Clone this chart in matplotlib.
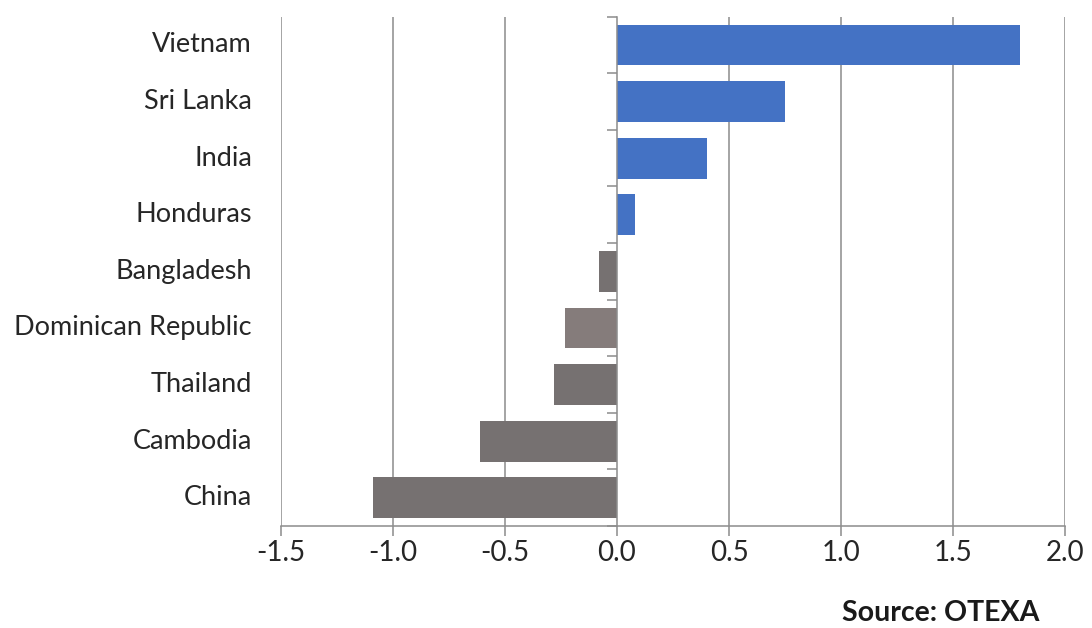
import matplotlib
matplotlib.use("Agg")
import matplotlib.pyplot as plt
import numpy as np

# change by country, top to bottom
countries = ["Vietnam", "Sri Lanka", "India", "Honduras", "Bangladesh",
             "Dominican Republic", "Thailand", "Cambodia", "China"]
values = [1.80, 0.75, 0.40, 0.08, -0.08, -0.23, -0.28, -0.61, -1.09]
xticks = [-1.5, -1.0, -0.5, 0.0, 0.5, 1.0, 1.5, 2.0]

BLUE = "#4472C4"
GRAY = "#767171"
shade = {"Dominican Republic": "#857C7B"}

plt.rcParams["font.family"] = ["Lato", "DejaVu Sans"]

fig = plt.figure(figsize=(10.92, 6.28), dpi=100)
ax = fig.add_axes([0.2573, 0.1624, 0.7180, 0.8110])

n = len(countries)
ypos = np.arange(n)
colors = [shade.get(c, BLUE if v >= 0 else GRAY) for c, v in zip(countries, values)]

# vertical gridlines behind the bars
for t in xticks:
    if t != 0:
        ax.axvline(t, color="#8c8c8c", lw=1.1, zorder=0)

ax.barh(ypos, values, height=0.72, color=colors, zorder=2)

ax.set_xlim(-1.5, 2.0)
ax.set_ylim(n - 0.5, -0.5)

# y axis sits at zero, ticks between categories
ax.spines["left"].set_position(("data", 0))
ax.spines["left"].set_color("#8c8c8c")
ax.spines["left"].set_linewidth(1.1)
ax.spines["left"].set_zorder(3)
ax.set_yticks(np.arange(n + 1) - 0.5)
ax.set_yticklabels([])
ax.tick_params(axis="y", length=7, width=1.1, color="#8c8c8c", direction="out")

for y, name in zip(ypos, countries):
    ax.text(-0.037, y, name, transform=ax.get_yaxis_transform(),
            ha="right", va="center", fontsize=19.5, color="#262626")

ax.spines["top"].set_visible(False)
ax.spines["right"].set_visible(False)
ax.spines["bottom"].set_color("#8c8c8c")
ax.spines["bottom"].set_linewidth(1.1)
ax.set_xticks(xticks)
ax.set_xticklabels([f"{t:.1f}" for t in xticks])
ax.tick_params(axis="x", length=7, width=1.1, color="#8c8c8c", pad=3,
               labelsize=20, labelcolor="#262626")

fig.text(0.952, 0.024, "Source: OTEXA", ha="right", va="center",
         fontsize=20.5, fontweight="bold", color="#1a1a1a")

fig.savefig("out.png", dpi=100)
